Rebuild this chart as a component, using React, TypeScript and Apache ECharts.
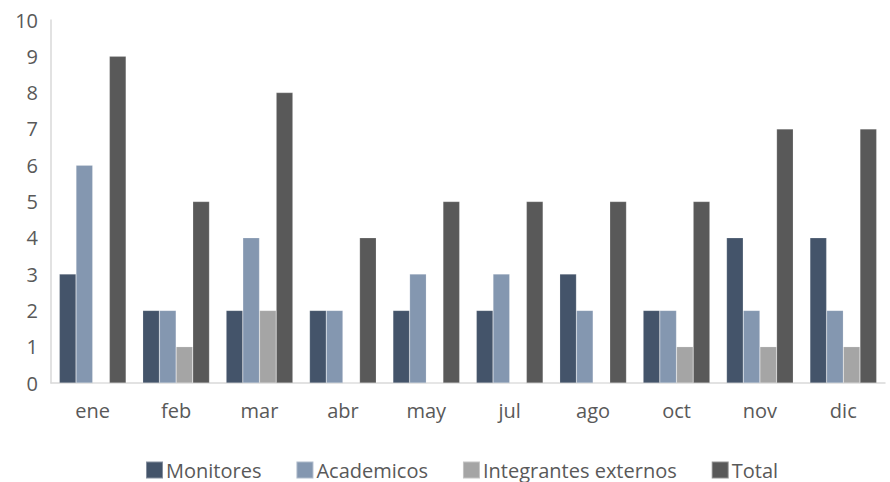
import React, { useEffect, useRef } from "react";
import * as echarts from "echarts";

const categories = ["ene", "feb", "mar", "abr", "may", "jul", "ago", "oct", "nov", "dic"];
const monitores = [3, 2, 2, 2, 2, 2, 3, 2, 4, 4];
const academicos = [6, 2, 4, 2, 3, 3, 2, 2, 2, 2];
const externos = [0, 1, 2, 0, 0, 0, 0, 1, 1, 1];
const total = [9, 5, 8, 4, 5, 5, 5, 5, 7, 7];
const yTicks = [0, 10, 1];

const FONT = "'Open Sans', 'Noto Sans', sans-serif";

export default function App() {
  const ref = useRef<HTMLDivElement>(null);
  useEffect(() => {
    const chart = echarts.init(ref.current!, undefined, { renderer: "svg" });
    const mk = (name: string, data: number[], color: string) => ({
      name,
      type: "bar",
      data,
      barGap: "0%",
      barCategoryGap: "20%",
      itemStyle: { color, borderColor: "rgba(255,255,255,0.35)", borderWidth: 0.5 },
    });
    chart.setOption({
      animation: false,
      textStyle: { fontFamily: FONT },
      grid: { left: 51, right: 5, top: 20, bottom: 99, containLabel: false },
      legend: {
        top: 460,
        left: 145,
        padding: 0,
        itemWidth: 17,
        itemHeight: 17,
        itemGap: 34,
        icon: "rect",
        textStyle: {
          fontSize: 20,
          lineHeight: 20,
          color: "#595959",
          fontFamily: FONT,
          padding: [0, 0, 0, -2],
        },
        data: ["Monitores", "Academicos", "Integrantes externos", "Total"],
      },
      xAxis: {
        type: "category",
        data: categories,
        axisLine: { show: true, lineStyle: { color: "#d9d9d9", width: 1.5 } },
        axisTick: { show: false },
        axisLabel: { fontSize: 20, color: "#595959", margin: 17, fontFamily: FONT },
      },
      yAxis: {
        type: "value",
        min: yTicks[0],
        max: yTicks[1],
        interval: yTicks[2],
        axisLine: { show: true, lineStyle: { color: "#d9d9d9", width: 1.5 } },
        axisTick: { show: false },
        splitLine: { show: false },
        axisLabel: { fontSize: 20, color: "#595959", margin: 13, fontFamily: FONT },
      },
      series: [
        mk("Monitores", monitores, "#44546a"),
        mk("Academicos", academicos, "#8497b0"),
        mk("Integrantes externos", externos, "#a5a5a5"),
        mk("Total", total, "#595959"),
      ],
    });
    return () => chart.dispose();
  }, []);
  return (
    <div
      ref={ref}
      style={{ position: "fixed", left: 0, top: 0, width: 890, height: 482, background: "#fff" }}
    />
  );
}
